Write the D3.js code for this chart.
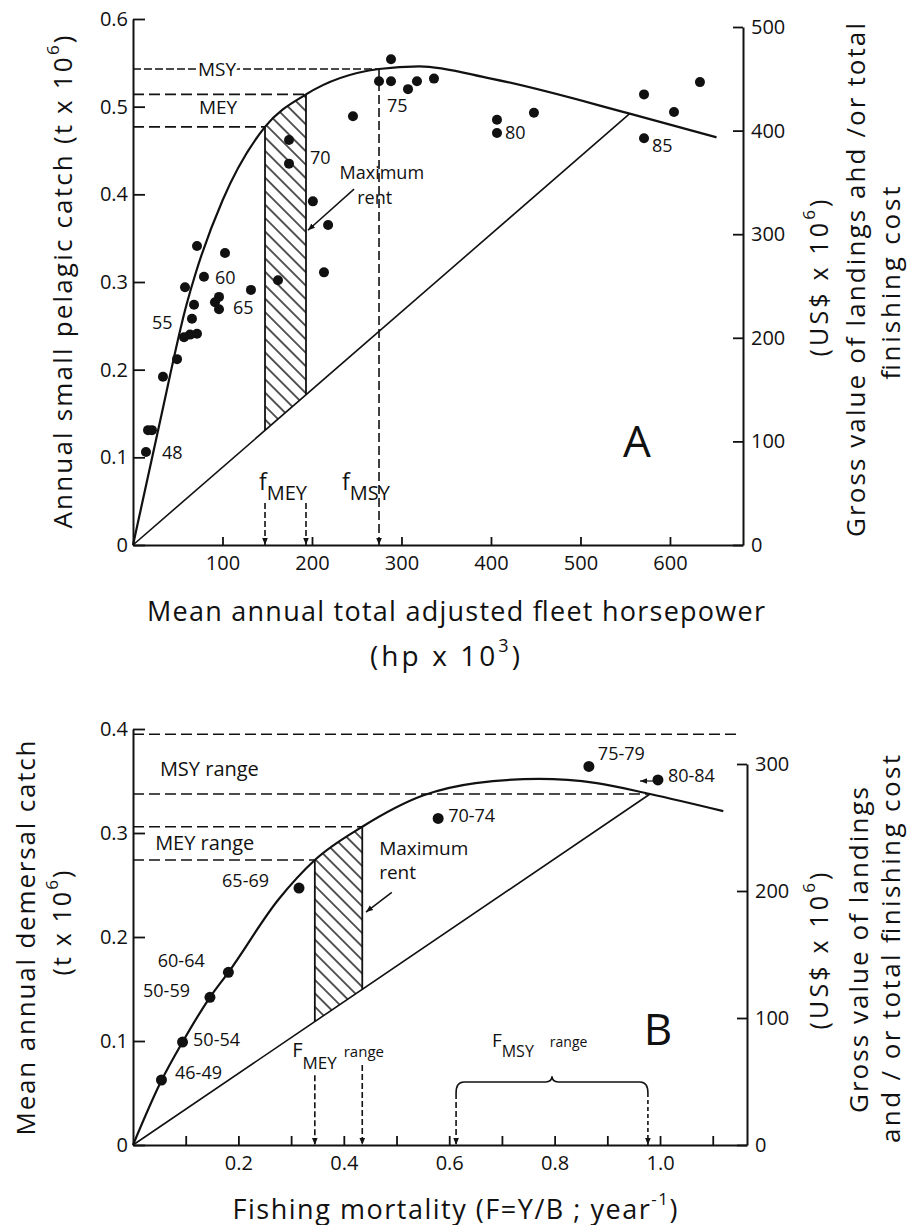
<!DOCTYPE html>
<meta charset="utf-8">
<script src="https://d3js.org/d3.v7.min.js"></script>
<style>
  body { margin: 0; background: #fff; }
  svg text { font-family: "Open Sans", sans-serif; fill: #111; }
</style>
<body>
<div id="chart"></div>
<script>
// ---------- panel A : small pelagic fishery (effort in hp x 10^3) ----------
var yieldA = [[0,0],[30,0.14],[60,0.275],[70,0.31],[100,0.393],[147.5,0.477],[193.3,0.514],
              [274.9,0.543],[320,0.546],[400,0.532],[555,0.492],[652,0.465]];
var costA = [[0,0],[555,0.492]];
var pointsA = [[14.5,0.106],[16.8,0.131],[21.2,0.131],[33.5,0.192],[49.2,0.212],[57,0.237],
  [63.7,0.24],[71.5,0.241],[65.9,0.258],[68.2,0.274],[58.1,0.294],[79.3,0.306],[71.5,0.341],
  [102.8,0.333],[91.6,0.277],[96.1,0.283],[96.1,0.269],[131.8,0.291],[162,0.302],[174.3,0.462],
  [174.3,0.435],[201,0.392],[218,0.365],[213.4,0.311],[245.8,0.489],[288.3,0.554],[274.9,0.529],
  [288.3,0.529],[307.3,0.52],[317.3,0.529],[336.3,0.532],[406.7,0.485],[406.7,0.47],[448,0.493],
  [571,0.514],[604.5,0.494],[633.5,0.528],[571,0.464]];
var yearsA = [["48",32.4,0.106],["55",21.2,0.254],["60",91.6,0.306],["65",111.7,0.272],
  ["70",197.8,0.443],["75",283.8,0.502],["80",415.6,0.471],["85",580,0.456]];
var msyA = 0.543, meyA = [0.477, 0.514];
var fMeyA = [147.5, 193.3], fMsyA = 274.9;
var ticksAleft = [0,0.1,0.2,0.3,0.4,0.5,0.6];
var ticksAbottom = [100,200,300,400,500,600];
var ticksAright = [0,100,200,300,400,500];

// ---------- panel B : demersal fishery (fishing mortality) ----------
var yieldB = [[0,0],[0.054,0.062],[0.094,0.099],[0.146,0.142],[0.181,0.166],[0.276,0.236],
  [0.345,0.274],[0.435,0.306],[0.55,0.336],[0.65,0.348],[0.77,0.352],[0.88,0.348],
  [0.981,0.3375],[1.12,0.321]];
var costB = [[0,0],[0.981,0.3375]];
var pointsB = [[0.054,0.0625],[0.094,0.099],[0.146,0.142],[0.181,0.166],[0.315,0.247],
  [0.579,0.314],[0.865,0.364],[0.996,0.351]];
var yearsB = [["46-49",0.0797,0.070],["50-54",0.114,0.102],["50-59",0.019,0.149],["60-64",0.047,0.178],
  ["65-69",0.169,0.255],["70-74",0.598,0.317],["75-79",0.882,0.377],["80-84",1.015,0.356]];
var msyB = [0.3375, 0.395], meyB = [0.274, 0.306];
var fMeyB = [0.345, 0.435], fMsyB = [0.613, 0.977];
var ticksBleft = [0,0.1,0.2,0.3,0.4];
var ticksBbottom = [0.1,0.2,0.3,0.4,0.5,0.6,0.7,0.8,0.9,1.0,1.1];
var ticksBright = [0,100,200,300];

var ink = "#111";
var svg = d3.select("#chart").append("svg").attr("width", 910).attr("height", 1225);
svg.append("rect").attr("width", 910).attr("height", 1225).attr("fill", "#fff");

var defs = svg.append("defs");
defs.append("pattern").attr("id", "hatch").attr("patternUnits", "userSpaceOnUse")
  .attr("width", 9.5).attr("height", 9.5).attr("patternTransform", "rotate(-45)")
  .append("line").attr("x1", 4.75).attr("x2", 4.75).attr("y1", 0).attr("y2", 9.5)
  .attr("stroke", ink).attr("stroke-width", 1.4);
defs.append("marker").attr("id", "arr").attr("viewBox", "0 0 10 10")
  .attr("refX", 10).attr("refY", 5).attr("markerWidth", 7).attr("markerHeight", 9)
  .attr("markerUnits", "userSpaceOnUse").attr("orient", "auto")
  .append("path").attr("d", "M0,1 L10,5 L0,9 z").attr("fill", ink);

// text with super/subscript parts: [text, shift(px), size(px), dx]
function rich(sel, parts) {
  var cur = 0;
  parts.forEach(function(p) {
    var t = sel.append("tspan").text(p[0]).attr("dy", (p[1] || 0) - cur);
    if (p[2]) t.style("font-size", p[2] + "px");
    if (p[3]) t.attr("dx", p[3]);
    cur = p[1] || 0;
  });
  return sel;
}
function vlabel(x, y, len, size, parts) {
  var t = svg.append("text").attr("transform", "translate(" + x + "," + y + ") rotate(-90)")
    .attr("text-anchor", "middle").attr("dominant-baseline", "central")
    .style("font-size", size + "px").attr("textLength", len).attr("lengthAdjust", "spacing");
  rich(t, parts);
}
function hlabel(x, y, len, size, parts) {
  var t = svg.append("text").attr("x", x).attr("y", y)
    .attr("text-anchor", "middle").attr("dominant-baseline", "central")
    .style("font-size", size + "px").attr("textLength", len).attr("lengthAdjust", "spacing");
  rich(t, parts);
}
function styleAxis(g, size) {
  g.attr("color", ink);
  g.select(".domain").attr("stroke-width", 2);
  g.selectAll(".tick line").attr("stroke-width", 1.8);
  g.selectAll("text").style("font-size", size + "px");
}
var fmt1 = function(d) { return d === 0 ? "0" : d.toFixed(1); };

// ================= PANEL A =================
var xA = d3.scaleLinear().domain([0, 681.6]).range([133, 743]);
var yA = d3.scaleLinear().domain([0, 0.6]).range([545, 19]);
var yAR = d3.scaleLinear().domain([0, 500]).range([545, 27]);
var gA = svg.append("g");

styleAxis(gA.append("g").attr("transform", "translate(133,0)")
  .call(d3.axisLeft(yA).tickValues(ticksAleft).tickSize(-12).tickSizeOuter(0).tickPadding(5).tickFormat(fmt1)), 20);
styleAxis(gA.append("g").attr("transform", "translate(0,545)")
  .call(d3.axisBottom(xA).tickValues(ticksAbottom).tickSize(-8).tickSizeOuter(0).tickPadding(11)), 20);
styleAxis(gA.append("g").attr("transform", "translate(743,0)")
  .call(d3.axisRight(yAR).tickValues(ticksAright).tickSize(-10).tickSizeOuter(0).tickPadding(8)), 20);

var lineA = d3.line().x(function(d) { return xA(d[0]); }).y(function(d) { return yA(d[1]); });
var curveA = d3.line().curve(d3.curveMonotoneX).x(function(d) { return xA(d[0]); }).y(function(d) { return yA(d[1]); });

// hatched maximum rent band
defs.append("clipPath").attr("id", "clipA").append("rect")
  .attr("x", xA(fMeyA[0])).attr("y", 0).attr("width", xA(fMeyA[1]) - xA(fMeyA[0])).attr("height", 600);
gA.append("path")
  .attr("d", curveA(yieldA.filter(function(d) { return d[0] <= costA[1][0]; })) + "L" + xA(0) + "," + yA(0) + "Z")
  .attr("fill", "url(#hatch)").attr("clip-path", "url(#clipA)");
var slopeA = costA[1][1] / costA[1][0];
fMeyA.forEach(function(f, i) {
  gA.append("line").attr("x1", xA(f)).attr("x2", xA(f)).attr("y1", yA(meyA[i])).attr("y2", yA(f * slopeA))
    .attr("stroke", ink).attr("stroke-width", 1.8);
});

// reference dashed lines
function dashA(x1, y1, x2, y2, arrow, dash) {
  var l = gA.append("line").attr("x1", xA(x1)).attr("y1", yA(y1)).attr("x2", xA(x2)).attr("y2", yA(y2))
    .attr("stroke", ink).attr("stroke-width", 1.6).attr("stroke-dasharray", dash || "11,5");
  if (arrow) l.attr("marker-end", "url(#arr)");
}
dashA(0, msyA, fMsyA, msyA, false, "8,3");
dashA(0, meyA[1], fMeyA[1], meyA[1]);
dashA(0, meyA[0], fMeyA[0], meyA[0]);
dashA(fMsyA, msyA, fMsyA, 0, true, "9,4");
dashA(fMeyA[0], 0.048, fMeyA[0], 0, true, "6,3");
dashA(fMeyA[1], 0.048, fMeyA[1], 0, true, "6,3");

gA.append("path").attr("d", lineA(costA)).attr("fill", "none").attr("stroke", ink).attr("stroke-width", 1.6);
gA.append("path").attr("d", curveA(yieldA)).attr("fill", "none").attr("stroke", ink).attr("stroke-width", 2.2);

gA.selectAll(".ptA").data(pointsA).join("circle")
  .attr("cx", function(d) { return xA(d[0]); }).attr("cy", function(d) { return yA(d[1]); })
  .attr("r", 5).attr("fill", ink);
gA.selectAll(".yrA").data(yearsA).join("text")
  .attr("x", function(d) { return xA(d[1]); }).attr("y", function(d) { return yA(d[2]); })
  .attr("dominant-baseline", "central").style("font-size", "18px").text(function(d) { return d[0]; });

gA.append("text").attr("x", xA(93.9)).attr("y", yA(msyA)).attr("text-anchor", "middle")
  .attr("dominant-baseline", "central").style("font-size", "19px")
  .attr("stroke", "#fff").attr("stroke-width", 7).style("paint-order", "stroke").text("MSY");
gA.append("text").attr("x", xA(95)).attr("y", yA(0.5)).attr("text-anchor", "middle")
  .attr("dominant-baseline", "central").style("font-size", "19px").text("MEY");
gA.append("text").attr("x", xA(278)).attr("y", yA(0.426)).attr("text-anchor", "middle")
  .attr("dominant-baseline", "central").style("font-size", "18px").text("Maximum");
gA.append("text").attr("x", xA(270)).attr("y", yA(0.397)).attr("text-anchor", "middle")
  .attr("dominant-baseline", "central").style("font-size", "18px").text("rent");
gA.append("line").attr("x1", xA(247)).attr("y1", yA(0.406)).attr("x2", xA(195.5)).attr("y2", yA(0.359))
  .attr("stroke", ink).attr("stroke-width", 1.5).attr("marker-end", "url(#arr)");
rich(gA.append("text").attr("x", xA(140.8)).attr("y", yA(0.0627)).style("font-size", "23px"),
  [["f", 0], ["MEY", 10, 20]]);
rich(gA.append("text").attr("x", xA(233.5)).attr("y", yA(0.0627)).style("font-size", "23px"),
  [["f", 0], ["MSY", 10, 20]]);
gA.append("text").attr("x", xA(563)).attr("y", yA(0.12)).attr("text-anchor", "middle")
  .attr("dominant-baseline", "central").style("font-size", "44px").text("A");

hlabel(456, 610, 618, 27, [["Mean annual total adjusted fleet horsepower"]]);
hlabel(445, 655, 150, 28, [["(hp x 10"], ["3", -10, 18], [")", 0]]);
vlabel(62, 282, 493, 26, [["Annual small pelagic catch (t x 10"], ["6", -10, 17], [")", 0]]);
vlabel(818, 278, 157, 25, [["(US$ x 10"], ["6", -10, 17], [")", 0]]);
vlabel(855, 280, 514, 26, [["Gross value of landings ahd /or total"]]);
vlabel(890, 283, 193, 26, [["finishing cost"]]);

// ================= PANEL B =================
var xB = d3.scaleLinear().domain([0, 1.165]).range([133, 747]);
var yB = d3.scaleLinear().domain([0, 0.4]).range([1145, 729]);
var yBR = d3.scaleLinear().domain([0, 300]).range([1145, 764]);
var gB = svg.append("g");

styleAxis(gB.append("g").attr("transform", "translate(133,0)")
  .call(d3.axisLeft(yB).tickValues(ticksBleft).tickSize(-12).tickSizeOuter(0).tickPadding(5).tickFormat(fmt1)), 20);
styleAxis(gB.append("g").attr("transform", "translate(0,1145)")
  .call(d3.axisBottom(xB).tickValues(ticksBbottom).tickSize(-9).tickSizeOuter(0).tickPadding(11)
    .tickFormat(function(d) { return Math.round(d * 10) % 2 === 0 ? d.toFixed(1) : ""; })), 20);
styleAxis(gB.append("g").attr("transform", "translate(747,0)")
  .call(d3.axisRight(yBR).tickValues(ticksBright).tickSize(-10).tickSizeOuter(0).tickPadding(8)), 20);

var lineB = d3.line().x(function(d) { return xB(d[0]); }).y(function(d) { return yB(d[1]); });
var curveB = d3.line().curve(d3.curveMonotoneX).x(function(d) { return xB(d[0]); }).y(function(d) { return yB(d[1]); });

defs.append("clipPath").attr("id", "clipB").append("rect")
  .attr("x", xB(fMeyB[0])).attr("y", 600).attr("width", xB(fMeyB[1]) - xB(fMeyB[0])).attr("height", 600);
gB.append("path")
  .attr("d", curveB(yieldB.filter(function(d) { return d[0] <= costB[1][0]; })) + "L" + xB(0) + "," + yB(0) + "Z")
  .attr("fill", "url(#hatch)").attr("clip-path", "url(#clipB)");
var slopeB = costB[1][1] / costB[1][0];
fMeyB.forEach(function(f, i) {
  gB.append("line").attr("x1", xB(f)).attr("x2", xB(f)).attr("y1", yB(meyB[i])).attr("y2", yB(f * slopeB))
    .attr("stroke", ink).attr("stroke-width", 1.8);
});

function dashB(x1, y1, x2, y2, arrow, dash) {
  var l = gB.append("line").attr("x1", xB(x1)).attr("y1", yB(y1)).attr("x2", xB(x2)).attr("y2", yB(y2))
    .attr("stroke", ink).attr("stroke-width", 1.6).attr("stroke-dasharray", dash || "11,5");
  if (arrow) l.attr("marker-end", "url(#arr)");
}
dashB(0, msyB[1], 1.146, msyB[1]);
dashB(0, msyB[0], costB[1][0], msyB[0]);
dashB(0, meyB[1], fMeyB[1], meyB[1]);
dashB(0, meyB[0], fMeyB[0], meyB[0]);
dashB(fMeyB[0], 0.067, fMeyB[0], 0, true, "6,3");
dashB(fMeyB[1], 0.077, fMeyB[1], 0, true, "6,3");
dashB(fMsyB[0], 0.05, fMsyB[0], 0, true, "6,3");
dashB(fMsyB[1], 0.05, fMsyB[1], 0, true, "4,3");

// brace over the F_MSY range
var bm = (fMsyB[0] + fMsyB[1]) / 2, by = 0.0606;
gB.append("path").attr("fill", "none").attr("stroke", ink).attr("stroke-width", 1.6).attr("d",
  "M" + xB(fMsyB[0]) + "," + yB(0.05) +
  "Q" + xB(fMsyB[0]) + "," + yB(by) + " " + xB(fMsyB[0] + 0.015) + "," + yB(by) +
  "L" + xB(bm - 0.012) + "," + yB(by) +
  "Q" + xB(bm) + "," + yB(by) + " " + xB(bm) + "," + yB(0.066) +
  "Q" + xB(bm) + "," + yB(by) + " " + xB(bm + 0.012) + "," + yB(by) +
  "L" + xB(fMsyB[1] - 0.015) + "," + yB(by) +
  "Q" + xB(fMsyB[1]) + "," + yB(by) + " " + xB(fMsyB[1]) + "," + yB(0.05));

gB.append("path").attr("d", lineB(costB)).attr("fill", "none").attr("stroke", ink).attr("stroke-width", 1.6);
gB.append("path").attr("d", curveB(yieldB)).attr("fill", "none").attr("stroke", ink).attr("stroke-width", 2.2);

gB.selectAll(".ptB").data(pointsB).join("circle")
  .attr("cx", function(d) { return xB(d[0]); }).attr("cy", function(d) { return yB(d[1]); })
  .attr("r", 5.5).attr("fill", ink);
gB.append("line").attr("x1", xB(0.99)).attr("y1", yB(0.35)).attr("x2", xB(0.962)).attr("y2", yB(0.35))
  .attr("stroke", ink).attr("stroke-width", 1.2).attr("marker-end", "url(#arr)");
gB.selectAll(".yrB").data(yearsB).join("text")
  .attr("x", function(d) { return xB(d[1]); }).attr("y", function(d) { return yB(d[2]); })
  .attr("dominant-baseline", "central").style("font-size", "18px").text(function(d) { return d[0]; });

gB.append("text").attr("x", xB(0.051)).attr("y", yB(0.3625)).attr("dominant-baseline", "central")
  .style("font-size", "20px").text("MSY range");
gB.append("text").attr("x", xB(0.042)).attr("y", yB(0.291)).attr("dominant-baseline", "central")
  .style("font-size", "20px").text("MEY range");
gB.append("text").attr("x", xB(0.467)).attr("y", yB(0.2856)).attr("dominant-baseline", "central")
  .style("font-size", "19px").text("Maximum");
gB.append("text").attr("x", xB(0.467)).attr("y", yB(0.2625)).attr("dominant-baseline", "central")
  .style("font-size", "19px").text("rent");
gB.append("line").attr("x1", xB(0.491)).attr("y1", yB(0.243)).attr("x2", xB(0.442)).attr("y2", yB(0.224))
  .attr("stroke", ink).attr("stroke-width", 1.5).attr("marker-end", "url(#arr)");
rich(gB.append("text").attr("x", xB(0.302)).attr("y", yB(0.0846)).style("font-size", "20px"),
  [["F", 0], ["MEY", 12, 17], ["range", 0, 15, 7]]);
rich(gB.append("text").attr("x", xB(0.681)).attr("y", yB(0.094)).style("font-size", "19px"),
  [["F", 0], ["MSY", 10, 16], ["range", 0, 14, 16]]);
gB.append("text").attr("x", xB(0.996)).attr("y", yB(0.1125)).attr("text-anchor", "middle")
  .attr("dominant-baseline", "central").style("font-size", "44px").text("B");

hlabel(455, 1208, 445, 27, [["Fishing mortality  (F=Y/B ; year"], ["-1", -10, 17], [")", 0]]);
vlabel(25, 938, 395, 26, [["Mean annual demersal catch"]]);
vlabel(61, 923, 105, 25, [["(t x 10"], ["6", -10, 17], [")", 0]]);
vlabel(818, 951, 157, 25, [["(US$ x 10"], ["6", -10, 17], [")", 0]]);
vlabel(858, 950, 326, 26, [["Gross value of landings"]]);
vlabel(890, 949, 388, 26, [["and / or total  finishing cost"]]);
</script>
</body>
